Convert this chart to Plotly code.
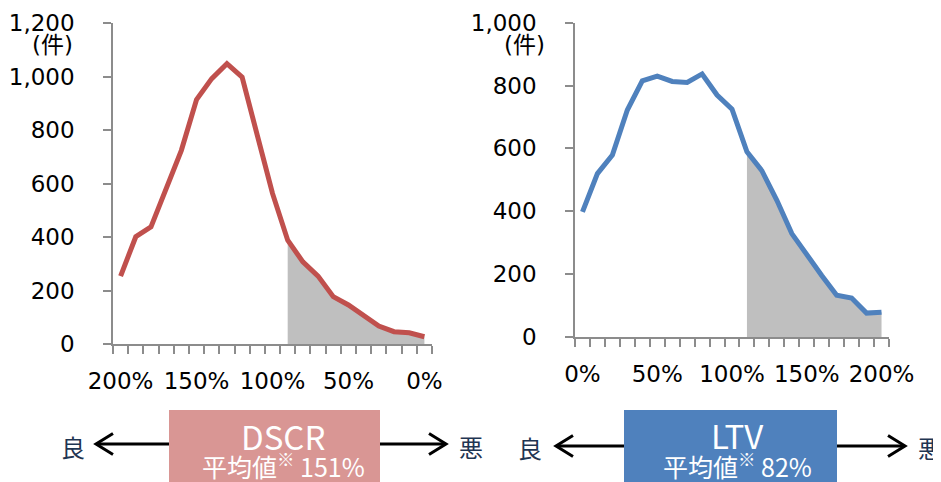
import plotly.graph_objects as go

W, H = 941, 482
OFF = 8  # default page body margin in the written html

# ---------------- data ----------------
dscr_labels = ["200%", "190%", "180%", "170%", "160%", "150%", "140%", "130%", "120%", "110%",
               "100%", "90%", "80%", "70%", "60%", "50%", "40%", "30%", "20%", "10%", "0%"]
dscr_counts = [254, 401, 438, 581, 724, 914, 992, 1048, 998, 780,
               563, 388, 307, 254, 177, 146, 108, 67, 46, 42, 27]
dscr_shade_from = "90%"
dscr_tick_labels = ["200%", "150%", "100%", "50%", "0%"]

ltv_labels = ["0%", "10%", "20%", "30%", "40%", "50%", "60%", "70%", "80%", "90%",
              "100%", "110%", "120%", "130%", "140%", "150%", "160%", "170%", "180%", "190%", "200%"]
ltv_counts = [398, 520, 579, 722, 815, 830, 813, 810, 837, 770,
              725, 589, 529, 435, 329, 260, 196, 133, 124, 76, 79]
ltv_shade_from = "110%"
ltv_tick_labels = ["0%", "50%", "100%", "150%", "200%"]

dscr_yticks = [0, 200, 400, 600, 800, 1000, 1200]
ltv_yticks = [0, 200, 400, 600, 800, 1000]

RED = "#C0504D"
BLUE = "#4F81BD"
PINK = "#D99694"
GRAY_FILL = "#BFBFBF"
AXIS = "#8C8C8C"
NAVY = "#1F3552"


def px(x):
    return (x - OFF) / W


def py(y):
    return 1 - (y - OFF) / H


fig = go.Figure()

# shaded tails
i0 = dscr_labels.index(dscr_shade_from)
fig.add_trace(go.Scatter(x=dscr_labels[i0:], y=dscr_counts[i0:], mode="lines",
                         line=dict(width=0, color=GRAY_FILL), fill="tozeroy",
                         fillcolor=GRAY_FILL, xaxis="x", yaxis="y", hoverinfo="skip"))
j0 = ltv_labels.index(ltv_shade_from)
fig.add_trace(go.Scatter(x=ltv_labels[j0:], y=ltv_counts[j0:], mode="lines",
                         line=dict(width=0, color=GRAY_FILL), fill="tozeroy",
                         fillcolor=GRAY_FILL, xaxis="x2", yaxis="y2", hoverinfo="skip"))

# lines
fig.add_trace(go.Scatter(x=dscr_labels, y=dscr_counts, mode="lines",
                         line=dict(width=5, color=RED), xaxis="x", yaxis="y"))
fig.add_trace(go.Scatter(x=ltv_labels, y=ltv_counts, mode="lines",
                         line=dict(width=5, color=BLUE), xaxis="x2", yaxis="y2"))

tickfont = dict(family="DejaVu Sans, Verdana, sans-serif", size=23, color="#000000")


def xaxis_cfg(labels, shown, domain, anchor):
    return dict(
        type="category", categoryorder="array", categoryarray=labels,
        domain=domain, anchor=anchor, range=[-0.5, len(labels) - 0.5],
        tickmode="array", tickvals=labels,
        ticktext=[l if l in shown else "" for l in labels],
        tickson="boundaries", ticks="outside", ticklen=8, tickwidth=1.5, tickcolor=AXIS,
        showline=True, linecolor=AXIS, linewidth=1.5, showgrid=False, zeroline=False,
        tickangle=0, tickfont=tickfont, ticklabelstandoff=16, fixedrange=True,
        automargin=False,
    )


def yaxis_cfg(ticks, domain, anchor):
    return dict(
        domain=domain, anchor=anchor, range=[0, ticks[-1]],
        tickmode="array", tickvals=ticks, tickformat=",",
        ticks="outside", ticklen=8, tickwidth=1.5, tickcolor=AXIS,
        showline=True, linecolor=AXIS, linewidth=1.5, showgrid=False, zeroline=False,
        tickfont=tickfont, ticklabelstandoff=24, fixedrange=True,
        automargin=False,
    )


shapes = []
annotations = []

# boxes
shapes.append(dict(type="rect", xref="paper", yref="paper", x0=px(169), x1=px(380),
                   y0=py(492), y1=py(410), fillcolor=PINK, line=dict(width=0), layer="above"))
shapes.append(dict(type="rect", xref="paper", yref="paper", x0=px(624), x1=px(837),
                   y0=py(492), y1=py(410), fillcolor=BLUE, line=dict(width=0), layer="above"))


def arrow(x_from, x_tip, y, head_w=17, head_h=10.5):
    d = 1 if x_tip > x_from else -1
    shapes.append(dict(type="line", xref="paper", yref="paper",
                       x0=px(x_from), x1=px(x_tip - d * 1.5), y0=py(y), y1=py(y),
                       line=dict(color="#000000", width=3)))
    path = "M {:.5f},{:.5f} L {:.5f},{:.5f} L {:.5f},{:.5f}".format(
        px(x_tip - d * head_w), py(y - head_h), px(x_tip), py(y), px(x_tip - d * head_w), py(y + head_h))
    shapes.append(dict(type="path", xref="paper", yref="paper", path=path,
                       line=dict(color="#000000", width=3)))


arrow(169, 96, 444)
arrow(380, 446, 444)
arrow(624, 556, 446)
arrow(837, 905, 446)

cjk = "Noto Sans CJK JP, sans-serif"


def text(x, y, s, size, color, family=cjk):
    annotations.append(dict(xref="paper", yref="paper", x=px(x), y=py(y), text=s,
                            showarrow=False, xanchor="center", yanchor="middle",
                            font=dict(family=family, size=size, color=color)))


text(73, 446, "良", 24, NAVY)
text(471, 446, "悪", 24, NAVY)
text(530, 447, "良", 24, NAVY)
text(930, 447, "悪", 24, NAVY)

text(283, 436, "DSCR", 33, "#FFFFFF")
text(283, 465, "平均値<sup>※</sup> 151%", 25, "#FFFFFF")
text(737, 435, "LTV", 33, "#FFFFFF")
text(737, 465, "平均値<sup>※</sup> 82%", 25, "#FFFFFF")

text(52, 45, "(件)", 23, "#000000", family="DejaVu Sans, Noto Sans CJK JP, sans-serif")
text(524, 45, "(件)", 23, "#000000", family="DejaVu Sans, Noto Sans CJK JP, sans-serif")

fig.update_layout(
    width=W, height=H, margin=dict(l=0, r=0, t=0, b=0, autoexpand=False),
    paper_bgcolor="white", plot_bgcolor="white", showlegend=False,
    xaxis=xaxis_cfg(dscr_labels, dscr_tick_labels, [px(113), px(432)], "y"),
    yaxis=yaxis_cfg(dscr_yticks, [py(344), py(23)], "x"),
    xaxis2=xaxis_cfg(ltv_labels, ltv_tick_labels, [px(575), px(889)], "y2"),
    yaxis2=yaxis_cfg(ltv_yticks, [py(337), py(22.7)], "x2"),
    shapes=shapes, annotations=annotations,
)

fig.write_html("out.html")
